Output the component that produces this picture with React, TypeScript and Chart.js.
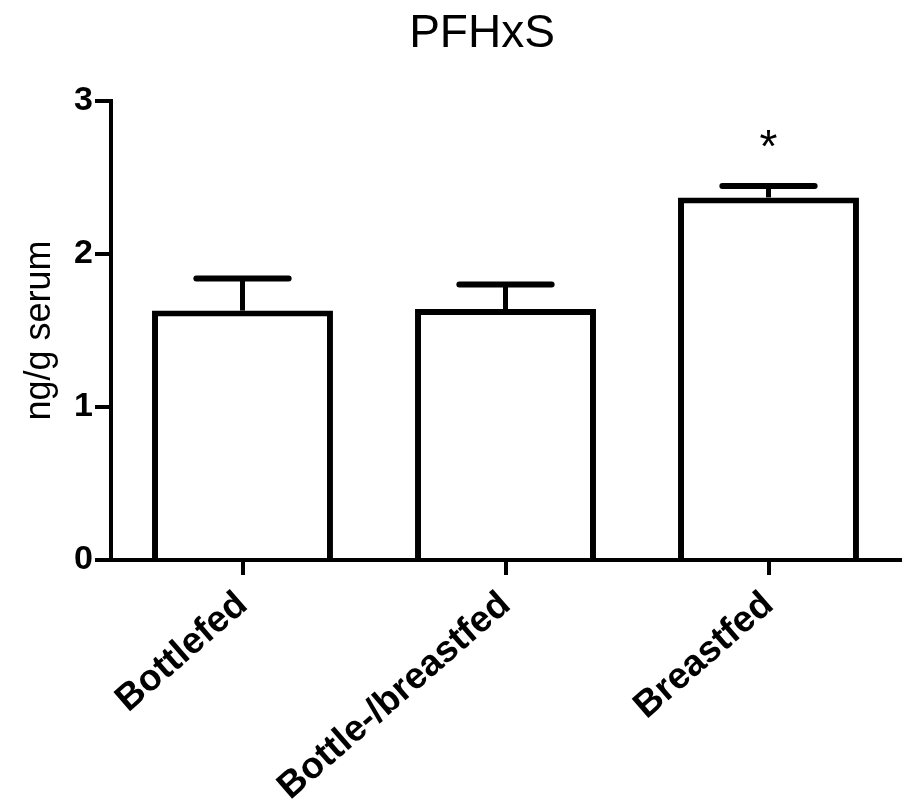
import React, { useEffect, useRef } from "react";
import { Chart, registerables } from "chart.js";

Chart.register(...registerables);

const chartTitle = "PFHxS";
const yAxisTitle = "ng/g serum";
const categories = ["Bottlefed", "Bottle-/breastfed", "Breastfed"];
const means = [1.63, 1.64, 2.37];
const sems = [0.21, 0.16, 0.075];
const significance = ["", "", "*"];
const yTickValues = [0, 1, 2, 3];

const FONT = "'Liberation Sans', Arial, Helvetica, sans-serif";

const errorBarPlugin = {
  id: "errorBars",
  afterDatasetsDraw(chart: any) {
    const meta = chart.getDatasetMeta(0);
    const y = chart.scales.y;
    const ctx = chart.ctx;
    ctx.save();
    ctx.strokeStyle = "#000";
    meta.data.forEach((bar: any, i: number) => {
      const yTop = y.getPixelForValue(means[i]);
      const yCap = y.getPixelForValue(means[i] + sems[i]);
      const half = bar.width * 0.255;
      ctx.lineWidth = 5;
      ctx.lineCap = "butt";
      ctx.beginPath();
      ctx.moveTo(bar.x, yTop);
      ctx.lineTo(bar.x, yCap);
      ctx.stroke();
      ctx.lineWidth = 6;
      ctx.lineCap = "round";
      ctx.beginPath();
      ctx.moveTo(bar.x - half, yCap);
      ctx.lineTo(bar.x + half, yCap);
      ctx.stroke();
      if (significance[i]) {
        ctx.fillStyle = "#000";
        ctx.font = `46px ${FONT}`;
        ctx.textAlign = "center";
        ctx.textBaseline = "alphabetic";
        ctx.fillText(significance[i], bar.x, yCap - 24);
      }
    });
    ctx.restore();
  },
};

const titlePlugin = {
  id: "customTitle",
  afterDraw(chart: any) {
    const ctx = chart.ctx;
    ctx.save();
    ctx.fillStyle = "#000";
    ctx.font = `46px ${FONT}`;
    ctx.textAlign = "center";
    ctx.textBaseline = "alphabetic";
    ctx.fillText(chartTitle, 482, 47);
    ctx.restore();
  },
};

export default function App() {
  const ref = useRef<HTMLCanvasElement | null>(null);

  useEffect(() => {
    document.body.style.margin = "0";
    if (!ref.current) return;
    const chart = new Chart(ref.current, {
      type: "bar",
      data: {
        labels: categories,
        datasets: [
          {
            data: means,
            backgroundColor: "#ffffff",
            borderColor: "#000000",
            borderWidth: 6,
            borderSkipped: "bottom",
            barPercentage: 0.688,
            categoryPercentage: 1,
          },
        ],
      },
      options: {
        responsive: false,
        animation: false,
        layout: { padding: { top: 101, right: 2, left: 0, bottom: 0 } },
        plugins: {
          legend: { display: false },
          title: { display: false },
          tooltip: { enabled: false },
        },
        scales: {
          x: {
            type: "category",
            offset: true,
            grid: {
              offset: false,
              drawOnChartArea: false,
              drawTicks: true,
              tickLength: 15,
              tickWidth: 4,
              tickColor: "#000",
              color: "#000",
              lineWidth: 4,
            },
            border: { display: true, color: "#000", width: 4 },
            ticks: {
              color: "#000",
              font: { family: FONT, size: 37, weight: "bold" },
              minRotation: 41,
              maxRotation: 41,
              padding: 8,
              autoSkip: false,
            },
            afterFit(scale: any) {
              scale.height = 247;
            },
          },
          y: {
            min: 0,
            max: 3,
            grid: {
              drawOnChartArea: false,
              drawTicks: true,
              tickLength: 16,
              tickWidth: 4,
              tickColor: "#000",
              color: "#000",
              lineWidth: 4,
            },
            border: { display: true, color: "#000", width: 4 },
            afterBuildTicks(scale: any) {
              scale.ticks = yTickValues.map((v) => ({ value: v }));
            },
            ticks: {
              color: "#000",
              font: { family: FONT, size: 34, weight: "bold" },
              padding: 2,
              callback: (v: any) => String(v),
            },
            title: {
              display: true,
              text: yAxisTitle,
              color: "#000",
              font: { family: FONT, size: 36, weight: "normal" },
              padding: { top: 18, bottom: 0 },
            },
            afterFit(scale: any) {
              scale.width = 111;
            },
          },
        },
      },
      plugins: [errorBarPlugin, titlePlugin],
    });
    return () => chart.destroy();
  }, []);

  return (
    <div style={{ position: "absolute", left: 0, top: 0, width: 902, height: 807 }}>
      <canvas ref={ref} width={902} height={807} style={{ width: 902, height: 807 }} />
    </div>
  );
}
